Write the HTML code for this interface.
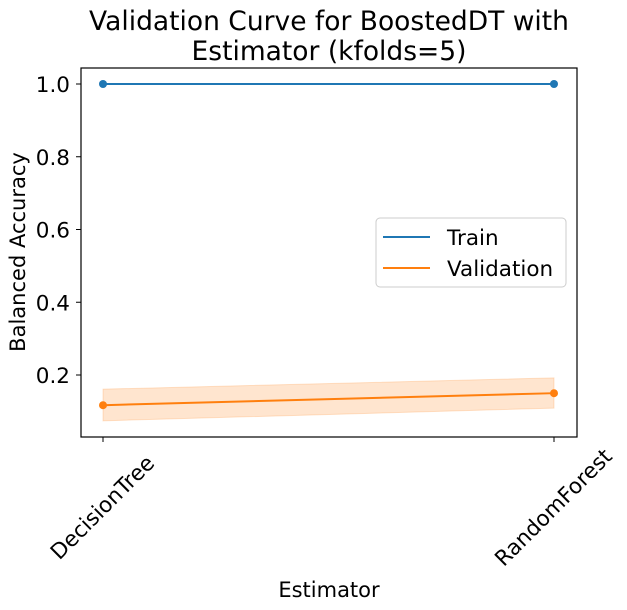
<!DOCTYPE html>
<html><head><meta charset="utf-8"><style>body{margin:0;background:#fff}svg{display:block;font-family:"DejaVu Sans","Liberation Sans",sans-serif}</style></head>
<body>
<svg width="627" height="610" viewBox="0 0 627 610">
<text x="329" y="30" text-anchor="middle" font-size="26.5">Validation Curve for BoostedDT with</text>
<text x="329" y="60" text-anchor="middle" font-size="26.5">Estimator (kfolds=5)</text>
<g id="plot"></g>
<rect x="81" y="68" width="496" height="369" fill="none" stroke="#000" stroke-width="1.2"/>
<text x="25" y="252" text-anchor="middle" font-size="21" transform="rotate(-90 25 252)">Balanced Accuracy</text>
<text x="329" y="597" text-anchor="middle" font-size="21">Estimator</text>
<g>
<rect x="376" y="218" width="190" height="69" rx="4" fill="#fff" stroke="#ccc"/>
<line x1="383" y1="237" x2="430" y2="237" stroke="#1f77b4" stroke-width="2"/>
<text x="447" y="245" font-size="21.5">Train</text>
<line x1="383" y1="268" x2="430" y2="268" stroke="#ff7f0e" stroke-width="2"/>
<text x="447" y="276" font-size="21.5">Validation</text>
</g>
</svg>
<script>
const categories = ["DecisionTree", "RandomForest"];
const trainScores = [1.0, 1.0];
const valScores = [0.117, 0.150];
const valUpper = [0.161, 0.192];
const valLower = [0.074, 0.109];
const yTicks = [0.2, 0.4, 0.6, 0.8, 1.0];
const yTickLabels = ["0.2", "0.4", "0.6", "0.8", "1.0"];

const NS = "http://www.w3.org/2000/svg";
const g = document.getElementById("plot");
function xs(i){ return 103 + i * (554 - 103) / (categories.length - 1); }
function ys(v){ return 84 + (1 - v) * 363.75; }
function mk(tag, attrs){ const e = document.createElementNS(NS, tag); for (const k in attrs) e.setAttribute(k, attrs[k]); g.appendChild(e); return e; }

let pts = categories.map((c,i)=>xs(i)+","+ys(valUpper[i]));
pts = pts.concat(categories.map((c,i)=>xs(i)+","+ys(valLower[i])).reverse());
const band = mk("polygon", {points: pts.join(" "), fill: "#ff7f0e", "fill-opacity": 0.2, stroke: "#ff7f0e", "stroke-opacity": 0.2});



function series(vals, color, name){
  const l = mk("polyline", {points: vals.map((v,i)=>xs(i)+","+ys(v)).join(" "), fill: "none", stroke: color, "stroke-width": 2});
  
  
  vals.forEach((v,i)=>{
    const c = mk("circle", {cx: xs(i), cy: ys(v), r: 4, fill: color});
    
    
  });
}
series(trainScores, "#1f77b4", "train");
series(valScores, "#ff7f0e", "validation");

yTicks.forEach((v,i)=>{
  const t = mk("line", {x1: 76, x2: 81, y1: ys(v), y2: ys(v), stroke: "#000", "stroke-width": 1});
  
  
  const tx = mk("text", {x: 70, y: ys(v) + 8, "text-anchor": "end", "font-size": 21.5});
  tx.textContent = yTickLabels[i];
  
  
});
categories.forEach((c,i)=>{
  const x = xs(i);
  const t = mk("line", {x1: x, x2: x, y1: 437, y2: 442, stroke: "#000", "stroke-width": 1});
  
  
  const cy = 508;
  const tx = mk("text", {x: x, y: cy, "text-anchor": "middle", "dominant-baseline": "central", "font-size": 21.5, transform: "rotate(-45 " + x + " " + cy + ")"});
  tx.textContent = c;
  
  
});
</script>
</body></html>
